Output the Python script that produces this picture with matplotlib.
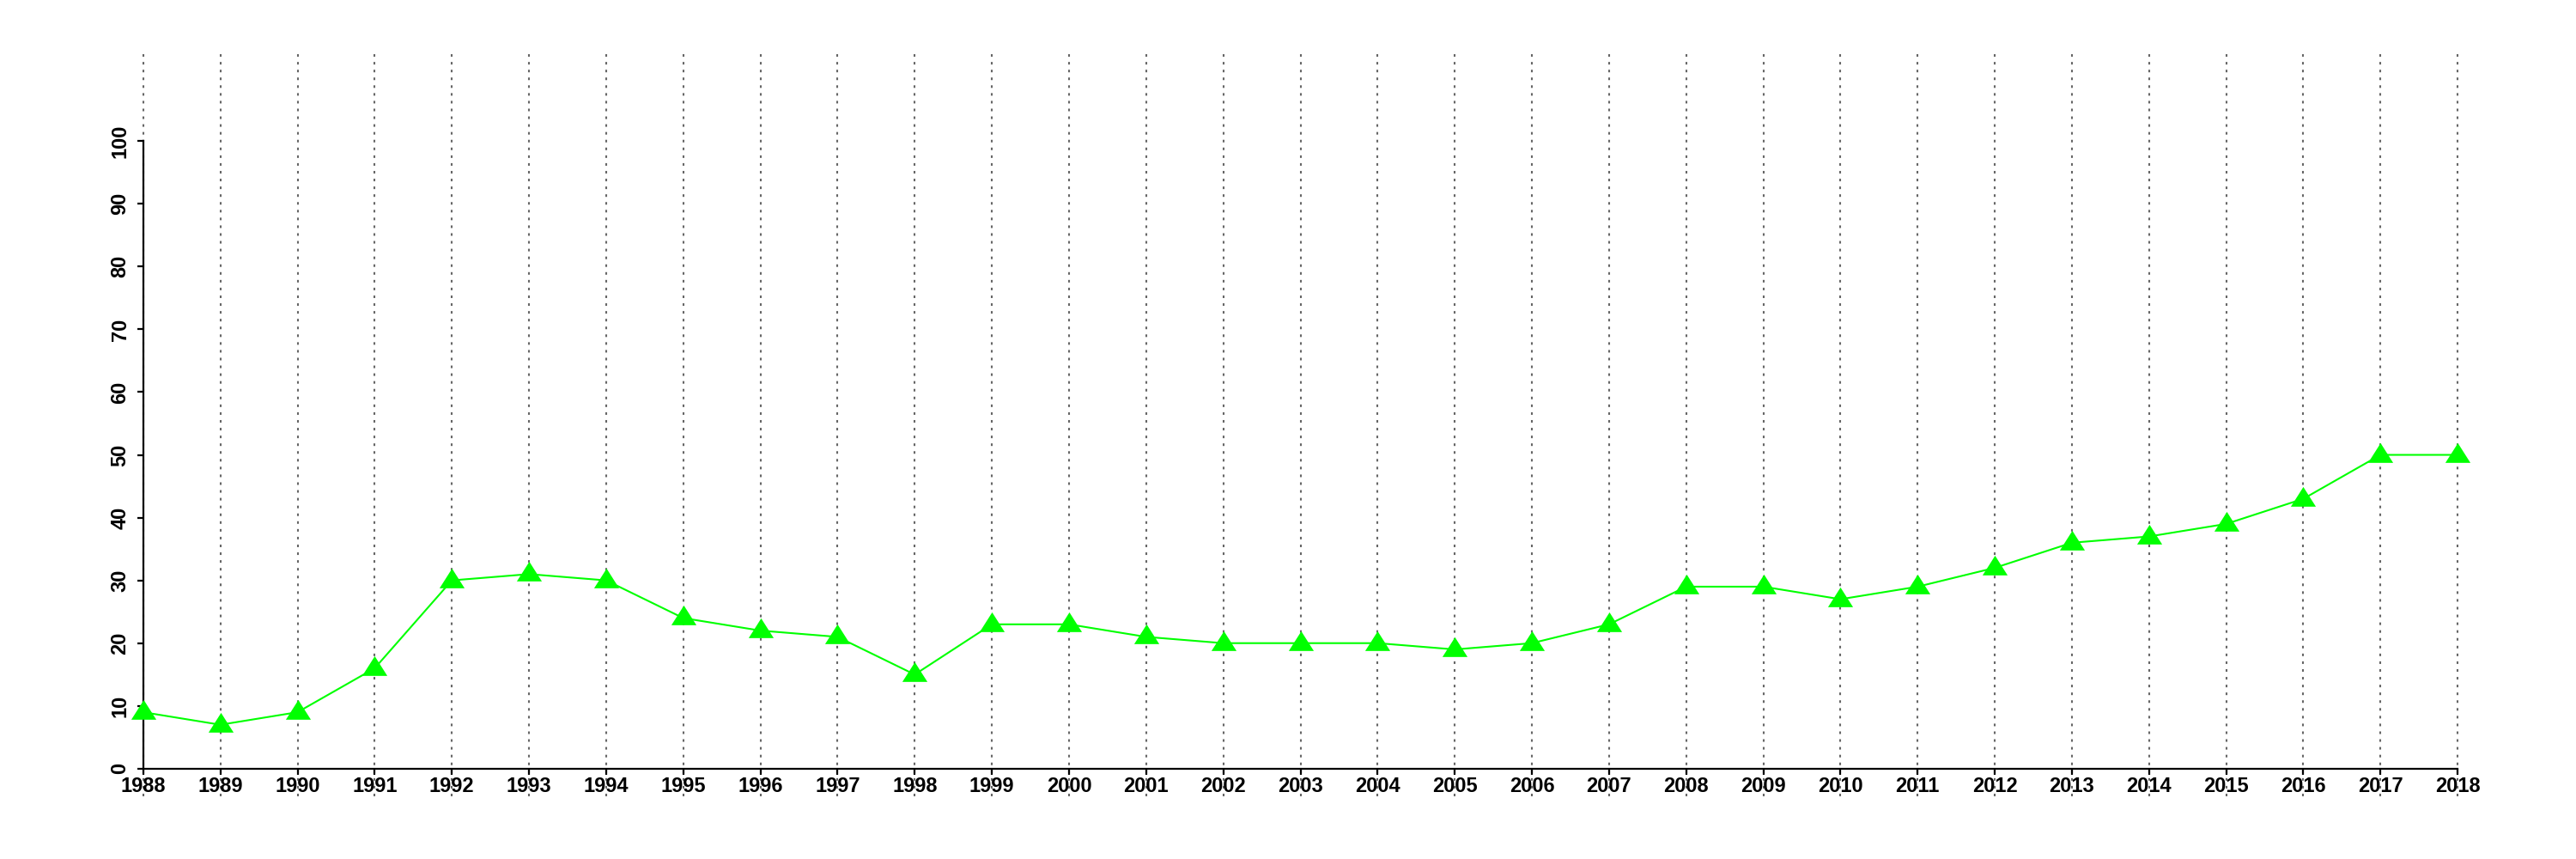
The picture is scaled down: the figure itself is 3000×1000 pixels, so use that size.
import matplotlib
matplotlib.use("Agg")
import matplotlib.pyplot as plt

# Datos
anios = list(range(1988, 2019))
valores = [9, 7, 9, 16, 30, 31, 30, 24, 22, 21, 15, 23, 23, 21, 20, 20, 20,
           19, 20, 23, 29, 29, 27, 29, 32, 36, 37, 39, 43, 50, 50]
y_ticks = list(range(0, 101, 10))

plt.rcParams['font.family'] = ['Liberation Sans', 'DejaVu Sans']

fig = plt.figure(figsize=(30, 10), dpi=100)
ax = fig.add_axes([59 / 3000, 1 - 927 / 1000, (2970 - 59) / 3000, (927 - 59) / 1000])

# lineas verticales punteadas (como abline en R)
for a in anios:
    ax.axvline(a, color="#666666", linewidth=1.5, linestyle=(0, (1.45, 2.9)), zorder=1)

# triangulo con el centro en el centroide
triangulo = [(0, 14), (-14, -8), (14, -8), (0, 14)]
ax.plot(anios, valores, color="#00ff00", linewidth=1.5, marker=triangulo,
        markersize=21, markeredgewidth=0, markerfacecolor="#00ff00", zorder=3)

ax.set_xlim(1986.8, 2019.2)
ax.set_ylim(-4.4, 114.4)

for s in ["top", "right"]:
    ax.spines[s].set_visible(False)
ax.spines["left"].set_position(("data", 1988))
ax.spines["bottom"].set_position(("data", 0))
ax.spines["left"].set_bounds(0, 100)
ax.spines["bottom"].set_bounds(1988, 2018)
for s in ["left", "bottom"]:
    ax.spines[s].set_linewidth(1.6)

ax.set_xticks(anios)
ax.set_xticklabels([str(a) for a in anios])
ax.set_yticks(y_ticks)
ax.set_yticklabels([str(v) for v in y_ticks], rotation=90, va="center")
ax.tick_params(axis="x", length=5, width=1.6, labelsize=17, pad=1.5)
ax.tick_params(axis="y", length=5, width=1.6, labelsize=17, pad=6)
for lab in ax.get_xticklabels() + ax.get_yticklabels():
    lab.set_fontweight("bold")

fig.savefig("out.png", dpi=100)
